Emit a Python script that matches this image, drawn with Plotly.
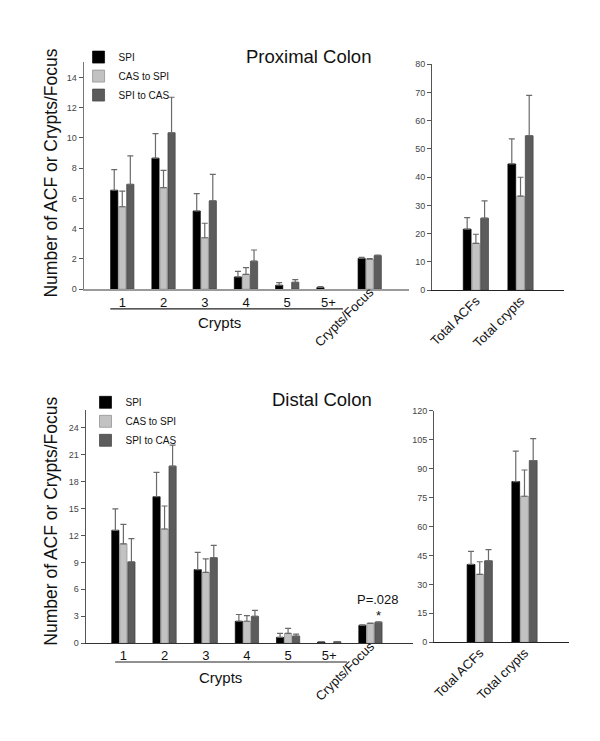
import plotly.graph_objects as go

# ---------------- data ----------------
series_names = ["SPI", "CAS to SPI", "SPI to CAS"]
crypt_labels = ["1", "2", "3", "4", "5", "5+"]
cf_label = ["Crypts/Focus"]
total_labels = ["Total ACFs", "Total crypts"]

# Proximal colon
prox_spi = [6.54, 8.66, 5.17, 0.81, 0.26, 0.11]
prox_spi_sem = [1.36, 1.63, 1.15, 0.37, 0.18, 0.06]
prox_cas = [5.45, 6.72, 3.40, 0.98, 0, 0]
prox_cas_sem = [1.03, 1.13, 0.96, 0.44, 0, 0]
prox_spicas = [6.93, 10.34, 5.84, 1.85, 0.46, 0]
prox_spicas_sem = [1.88, 2.35, 1.75, 0.74, 0.17, 0]
prox_cf = [2.03, 1.98, 2.22]
prox_cf_sem = [0.07, 0.05, 0.04]
prox_tot_spi = [21.6, 44.7]
prox_tot_spi_sem = [4.1, 8.9]
prox_tot_cas = [16.6, 33.3]
prox_tot_cas_sem = [3.2, 6.7]
prox_tot_spicas = [25.5, 54.7]
prox_tot_spicas_sem = [6.1, 14.3]

# Distal colon
dist_spi = [12.56, 16.3, 8.2, 2.45, 0.66, 0.15]
dist_spi_sem = [2.39, 2.7, 1.91, 0.75, 0.44, 0]
dist_cas = [11.06, 12.71, 7.88, 2.45, 1.1, 0]
dist_cas_sem = [2.16, 2.56, 1.5, 0.63, 0.55, 0]
dist_spicas = [9.05, 19.7, 9.52, 3.0, 0.8, 0.18]
dist_spicas_sem = [2.6, 2.35, 1.36, 0.66, 0.22, 0]
dist_cf = [2.0, 2.2, 2.35]
dist_cf_sem = [0.04, 0.04, 0.04]
dist_tot_spi = [40.3, 83.2]
dist_tot_spi_sem = [6.8, 15.8]
dist_tot_cas = [35.2, 75.6]
dist_tot_cas_sem = [6.5, 13.6]
dist_tot_spicas = [42.2, 94.1]
dist_tot_spicas_sem = [5.8, 11.3]

# ---------------- style ----------------
colors = ["#000000", "#c2c2c2", "#5c5c5c"]
line_colors = ["#000000", "#8a8a8a", "#404040"]
FONT = "Liberation Sans, Arial, sans-serif"
BW = 0.175
STEP = 0.195
offsets = [-1.5 * STEP + (STEP - BW) / 2 + i * STEP for i in range(3)]


def nz(v):
    return [x if x else None for x in v]


def add_bars(fig, xs, vals, sems, i, xaxis, yaxis, legend=None, show=False):
    fig.add_trace(go.Bar(
        x=xs, y=nz(vals), name=series_names[i],
        width=BW, offset=offsets[i],
        marker=dict(color=colors[i], line=dict(color=line_colors[i], width=0.7)),
        error_y=dict(type="data", array=nz(sems), arrayminus=[0] * len(sems),
                     symmetric=False, color="#6a6a6a", thickness=1.2, width=3),
        xaxis=xaxis, yaxis=yaxis, showlegend=show,
        legend=legend if legend else "legend",
    ))


fig = go.Figure()
pos_c = list(range(len(crypt_labels)))
pos_cf = [len(crypt_labels)]
pos_t = list(range(len(total_labels)))

prox_sets = [(prox_spi, prox_spi_sem), (prox_cas, prox_cas_sem), (prox_spicas, prox_spicas_sem)]
dist_sets = [(dist_spi, dist_spi_sem), (dist_cas, dist_cas_sem), (dist_spicas, dist_spicas_sem)]
prox_tot = [(prox_tot_spi, prox_tot_spi_sem), (prox_tot_cas, prox_tot_cas_sem), (prox_tot_spicas, prox_tot_spicas_sem)]
dist_tot = [(dist_tot_spi, dist_tot_spi_sem), (dist_tot_cas, dist_tot_cas_sem), (dist_tot_spicas, dist_tot_spicas_sem)]

for i in range(3):
    add_bars(fig, pos_c, prox_sets[i][0], prox_sets[i][1], i, "x", "y", "legend", True)
    add_bars(fig, pos_cf, [prox_cf[i]], [prox_cf_sem[i]], i, "x2", "y")
    add_bars(fig, pos_t, prox_tot[i][0], prox_tot[i][1], i, "x3", "y3")
    add_bars(fig, pos_c, dist_sets[i][0], dist_sets[i][1], i, "x4", "y4", "legend2", True)
    add_bars(fig, pos_cf, [dist_cf[i]], [dist_cf_sem[i]], i, "x5", "y4")
    add_bars(fig, pos_t, dist_tot[i][0], dist_tot[i][1], i, "x6", "y6")

# page has an 8px body margin; figure fills the rest of the 600x741 window
OFF = 8
W, H = 600 - OFF, 741 - OFF


def px_x(p):
    return (p - OFF) / W


def px_y(p):
    return 1 - (p - OFF) / H


ytick = dict(ticks="outside", ticklen=4, tickcolor="#555", tickwidth=1,
             tickfont=dict(size=9, color="#444", family=FONT),
             showgrid=False, zeroline=False, showline=True, fixedrange=True)
xbase = dict(showgrid=False, zeroline=False, ticks="", fixedrange=True,
             tickfont=dict(size=13, color="#111", family=FONT))

tl_range = [-0.94, 6.96]
bl_range = [-0.92, 7.04]

fig.update_layout(
    width=W, height=H, margin=dict(l=0, r=0, t=0, b=0),
    paper_bgcolor="white", plot_bgcolor="white",
    barmode="overlay",
    font=dict(family=FONT, color="#111"),
    xaxis=dict(**xbase, domain=[px_x(80), px_x(408)], range=tl_range, anchor="y",
               tickvals=pos_c, ticktext=crypt_labels, showline=True,
               linecolor="#9a9a9a", linewidth=2),
    xaxis2=dict(**xbase, overlaying="x", anchor="y", range=tl_range,
                tickvals=pos_cf, ticktext=cf_label, tickangle=-45, showline=False,
                ticklabelstandoff=-8),
    yaxis=dict(**ytick, domain=[px_y(288), px_y(58)], range=[0, 15], dtick=2,
               anchor="x", linecolor="#777"),
    xaxis3=dict(**xbase, domain=[px_x(431), px_x(564)], range=[-0.98, 1.98],
                anchor="y3", tickvals=pos_t, ticktext=total_labels, tickangle=-45,
                showline=True, linecolor="#222", linewidth=1, ticklabelstandoff=-3),
    yaxis3=dict(**ytick, domain=[px_y(289), px_y(60)], range=[0, 80], dtick=10,
                anchor="x3", linecolor="#555"),
    xaxis4=dict(**xbase, domain=[px_x(82), px_x(412)], range=bl_range, anchor="y4",
                tickvals=pos_c, ticktext=crypt_labels, showline=True,
                linecolor="#333", linewidth=1.2),
    xaxis5=dict(**xbase, overlaying="x4", anchor="y4", range=bl_range,
                tickvals=pos_cf, ticktext=cf_label, tickangle=-45, showline=False,
                ticklabelstandoff=-8),
    yaxis4=dict(**ytick, domain=[px_y(647), px_y(410)], range=[0, 26], dtick=3,
                anchor="x4", linecolor="#555"),
    xaxis6=dict(**xbase, domain=[px_x(433), px_x(569)], range=[-1.02, 2.0],
                anchor="y6", tickvals=pos_t, ticktext=total_labels, tickangle=-45,
                showline=True, linecolor="#222", linewidth=1, ticklabelstandoff=-3),
    yaxis6=dict(**ytick, domain=[px_y(646), px_y(411)], range=[0, 120], dtick=15,
                anchor="x6", linecolor="#555"),
    legend=dict(x=px_x(75), y=px_y(38), xanchor="left", yanchor="top",
                font=dict(size=10, family=FONT, color="#111"),
                bgcolor="rgba(0,0,0,0)", tracegroupgap=0),
    legend2=dict(x=px_x(82), y=px_y(388), xanchor="left", yanchor="top",
                 font=dict(size=10, family=FONT, color="#111"),
                 bgcolor="rgba(0,0,0,0)", tracegroupgap=0),
)

ann = []
ytitle = "Number of ACF or Crypts/Focus"
tfont = dict(size=17.5, family=FONT, color="#111")
hfont = dict(size=18.5, family=FONT, color="#111")
ann.append(dict(text=ytitle, x=px_x(47), y=px_y(170), xref="paper", yref="paper",
                xanchor="center", yanchor="middle",
                textangle=-90, showarrow=False, font=tfont))
ann.append(dict(text=ytitle, x=px_x(47), y=px_y(523), xref="paper", yref="paper",
                xanchor="center", yanchor="middle",
                textangle=-90, showarrow=False, font=tfont))
ann.append(dict(text="Proximal Colon", x=px_x(371), y=px_y(52), xref="paper", yref="paper",
                xanchor="right", yanchor="middle", showarrow=False, font=hfont))
ann.append(dict(text="Distal Colon", x=px_x(372), y=px_y(400), xref="paper", yref="paper",
                xanchor="right", yanchor="middle", showarrow=False, font=hfont))
# Crypts group label
mid = (pos_c[0] + pos_c[-1]) / 2 - 0.15
cfont = dict(size=15, family=FONT, color="#111")
ann.append(dict(text="Crypts", x=mid, y=px_y(322), xref="x", yref="paper",
                xanchor="center", yanchor="middle", showarrow=False, font=cfont))
ann.append(dict(text="Crypts", x=mid, y=px_y(682), xref="x4", yref="paper",
                xanchor="center", yanchor="middle", showarrow=False, font=cfont))
# significance
sig_x = pos_cf[0] + offsets[2] + BW / 2
ann.append(dict(text="P=.028", x=sig_x, y=dist_cf[2], xref="x5", yref="y4",
                xanchor="center", yanchor="middle", yshift=23, showarrow=False,
                font=dict(size=13, family=FONT, color="#111")))
ann.append(dict(text="*", x=sig_x, y=dist_cf[2], xref="x5", yref="y4",
                xanchor="center", yanchor="middle", yshift=7, showarrow=False,
                font=dict(size=13, family=FONT, color="#111")))
fig.update_layout(annotations=ann)

shapes = [
    dict(type="line", xref="x", yref="paper", x0=pos_c[0] - 0.29, x1=pos_c[-1] + 0.35,
         y0=px_y(308), y1=px_y(308), line=dict(color="#222", width=1.2)),
    dict(type="line", xref="x4", yref="paper", x0=pos_c[0] - 0.2, x1=pos_c[-1] + 0.43,
         y0=px_y(666), y1=px_y(666), line=dict(color="#222", width=1.2)),
]
fig.update_layout(shapes=shapes)

fig.write_html("out.html")
